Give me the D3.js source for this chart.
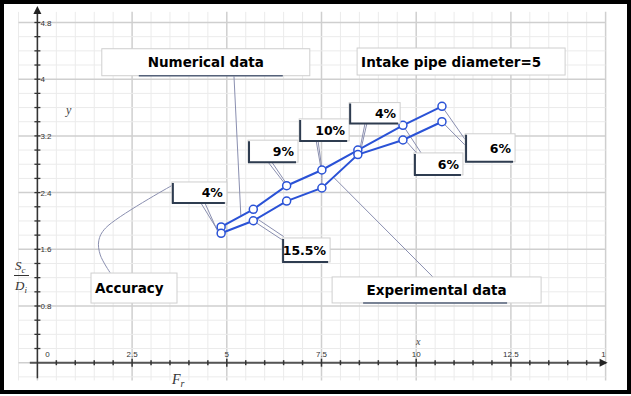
<!DOCTYPE html>
<html>
<head>
<meta charset="utf-8">
<script src="https://cdn.jsdelivr.net/npm/d3@7"></script>
<style>
  body { margin: 0; background: #fff; }
  svg { display: block; }
</style>
</head>
<body>
<svg id="chart" width="631" height="396"></svg>
<script>
// Froude number values (x) for both series
const frValues = [4.85, 5.7, 6.58, 7.51, 8.46, 9.65, 10.68]
// Sc/Di values
const numerical = [1.915, 2.164, 2.497, 2.719, 3.0, 3.349, 3.617]
const experimental = [1.826, 2.003, 2.281, 2.465, 2.937, 3.142, 3.4]
const xTicks = [0, 2.5, 5, 7.5, 10, 12.5, 15]
const yTicks = [0.8, 1.6, 2.4, 3.2, 4, 4.8]

// annotation boxes (data coords of top-left corner)
const labels = [
  { text: 'Numerical data', x: 1.7, y: 4.43, w: 208, h: 27, big: true, under: [37, 181] },
  { text: 'Intake pipe diameter=5', x: 8.44, y: 4.44, w: 208, h: 27, big: true, left: true },
  { text: 'Accuracy', x: 1.415, y: 1.265, w: 86, h: 30, big: true, left: true },
  { text: 'Experimental data', x: 7.78, y: 1.21, w: 209, h: 26, big: true, under: [31, 175] },
  { text: '4%', x: 3.55, y: 2.55, w: 55, h: 21 },
  { text: '15.5%', x: 6.46, y: 1.76, w: 48, h: 24 },
  { text: '9%', x: 5.56, y: 3.14, w: 50, h: 22 },
  { text: '10%', x: 6.91, y: 3.44, w: 50, h: 22 },
  { text: '4%', x: 8.23, y: 3.67, w: 51, h: 21 },
  { text: '6%', x: 9.94, y: 2.96, w: 49, h: 22 },
  { text: '6%', x: 11.29, y: 3.23, w: 50, h: 28 }
]

// leader lines, data coords
const leaders = [
  [[5.19, 4.04], [5.37, 2.08]],
  [[10.44, 1.21], [7.83, 2.61]],
  [[4.32, 2.25], [4.74, 1.885]],
  [[4.425, 2.25], [4.77, 1.84]],
  [[5.76, 1.98], [6.5, 1.72]],
  [[5.83, 2.02], [6.5, 1.78]],
  [[6.09, 2.83], [6.54, 2.52]],
  [[6.19, 2.83], [6.57, 2.53]],
  [[7.36, 3.130], [7.49, 2.73]],
  [[7.41, 3.130], [7.51, 2.73]],
  [[7.51, 2.719], [7.51, 2.465]],
  [[8.65, 3.38], [8.52, 3.03]],
  [[8.7, 3.38], [8.55, 3.03]],
  [[9.65, 3.349], [10.13, 2.96]],
  [[9.76, 3.11], [10.01, 2.96]],
  [[10.68, 3.617], [11.29, 3.15]],
  [[10.68, 3.4], [11.29, 3.07]]
]
const accuracyCurve = [[3.55, 2.5], [1.8, 1.9], [1.62, 1.72], [1.66, 1.52], [1.92, 1.27]]

const svg = d3.select('#chart')

const x = d3.scaleLinear().domain([0, 15]).range([37.4, 605.6])
const y = d3.scaleLinear().domain([0, 4.8]).range([362.7, 22.5])

const gridG = svg.append('g')
const xMinor = d3.range(-0.5, 15.01, 0.5)
const yMinor = d3.range(-0.2, 4.91, 0.2)

gridG.selectAll('.vx')
  .data(xMinor)
  .enter()
  .append('line')
  .attr('x1', d => x(d))
  .attr('x2', d => x(d))
  .attr('y1', y(4.95))
  .attr('y2', y(-0.25))
  .attr('stroke', d => Math.abs(d / 2.5 - Math.round(d / 2.5)) < 1e-6 ? '#cfcfcf' : '#ebebeb')
  .attr('stroke-width', d => Math.abs(d / 2.5 - Math.round(d / 2.5)) < 1e-6 ? 1.5 : 1)

gridG.selectAll('.hy')
  .data(yMinor)
  .enter()
  .append('line')
  .attr('x1', x(-0.5))
  .attr('x2', x(15))
  .attr('y1', d => y(d))
  .attr('y2', d => y(d))
  .attr('stroke', d => Math.abs(d / 0.8 - Math.round(d / 0.8)) < 1e-6 ? '#cfcfcf' : '#ebebeb')
  .attr('stroke-width', d => Math.abs(d / 0.8 - Math.round(d / 0.8)) < 1e-6 ? 1.5 : 1)

// axes
const axisG = svg.append('g')
axisG.append('line')
  .attr('x1', x(-0.2)).attr('x2', x(15))
  .attr('y1', y(0)).attr('y2', y(0))
  .attr('stroke', '#555').attr('stroke-width', 2)
axisG.append('path')
  .attr('d', `M${x(15) + 2},${y(0)} l-8,-4 l0,8 z`)
  .attr('fill', '#222')
axisG.append('line')
  .attr('x1', x(0)).attr('x2', x(0))
  .attr('y1', y(-0.22)).attr('y2', y(4.92))
  .attr('stroke', '#333').attr('stroke-width', 1.5)
axisG.append('path')
  .attr('d', `M${x(0)},${y(4.92) - 8} l-4,8 l8,0 z`)
  .attr('fill', '#222')

axisG.selectAll('.xt')
  .data(xMinor.filter(d => d > 0 && d < 15))
  .enter()
  .append('line')
  .attr('x1', d => x(d)).attr('x2', d => x(d))
  .attr('y1', d => y(0) - (d % 2.5 === 0 ? 4 : 2.5))
  .attr('y2', d => y(0) + (d % 2.5 === 0 ? 4 : 2.5))
  .attr('stroke', '#333').attr('stroke-width', 1.5)

axisG.selectAll('.yt')
  .data(yMinor.filter(d => d > 0.01 && d < 4.85))
  .enter()
  .append('line')
  .attr('x1', x(0) - 3).attr('x2', x(0) + 3)
  .attr('y1', d => y(d)).attr('y2', d => y(d))
  .attr('stroke', '#333').attr('stroke-width', 1.3)

svg.append('clipPath').attr('id', 'clipx')
  .append('rect').attr('x', 0).attr('y', 0).attr('width', x(15)).attr('height', 396)

axisG.selectAll('.xl')
  .data(xTicks)
  .enter()
  .append('text')
  .attr('x', d => d === 0 ? x(d) + 10 : x(d))
  .attr('y', y(0) - 6)
  .attr('text-anchor', 'middle')
  .attr('clip-path', 'url(#clipx)')
  .style('font', '8px "Liberation Sans", Arial, sans-serif')
  .style('fill', '#333')
  .text(d => d)

axisG.selectAll('.yl')
  .data(yTicks)
  .enter()
  .append('text')
  .attr('x', x(0) + 3)
  .attr('y', d => y(d) + 3)
  .style('font', '8px "Liberation Sans", Arial, sans-serif')
  .style('fill', '#333')
  .text(d => d)

const serif = '"Liberation Serif", "DejaVu Serif", serif'
svg.append('text').attr('x', 66).attr('y', 114)
  .style('font', `italic 12px ${serif}`).style('fill', '#444').text('y')
svg.append('text').attr('x', 416).attr('y', 345)
  .style('font', `italic 10px ${serif}`).style('fill', '#444').text('x')

const fr = svg.append('text').attr('x', 172).attr('y', 384)
  .style('font', `italic 14px ${serif}`).style('fill', '#333')
fr.append('tspan').text('F')
fr.append('tspan').attr('dy', 3).style('font-size', '10px').text('r')

const frac = svg.append('g').style('font', `italic 13px ${serif}`).style('fill', '#333')
const sc = frac.append('text').attr('x', 15).attr('y', 270)
sc.append('tspan').text('S')
sc.append('tspan').attr('dy', 3).style('font-size', '9px').text('c')
frac.append('line').attr('x1', 14).attr('x2', 29).attr('y1', 275.5).attr('y2', 275.5)
  .attr('stroke', '#333').attr('stroke-width', 1)
const di = frac.append('text').attr('x', 15).attr('y', 290)
di.append('tspan').text('D')
di.append('tspan').attr('dy', 3).style('font-size', '9px').text('i')

// leader lines
const leaderColor = '#8a8fb0'
svg.selectAll('.leader')
  .data(leaders)
  .enter()
  .append('line')
  .attr('x1', d => x(d[0][0])).attr('y1', d => y(d[0][1]))
  .attr('x2', d => x(d[1][0])).attr('y2', d => y(d[1][1]))
  .attr('stroke', leaderColor).attr('stroke-width', 1)

svg.append('path')
  .datum(accuracyCurve)
  .attr('d', d3.line().x(d => x(d[0])).y(d => y(d[1])).curve(d3.curveCatmullRom))
  .attr('fill', 'none')
  .attr('stroke', leaderColor).attr('stroke-width', 1)

// series
const lineGen = d3.line().x((d, i) => x(frValues[i])).y(d => y(d))
const blue = '#2a52d6'
;[numerical, experimental].forEach(series => {
  svg.append('path')
    .datum(series)
    .attr('d', lineGen)
    .attr('fill', 'none')
    .attr('stroke', blue)
    .attr('stroke-width', 2)
  svg.selectAll(null)
    .data(series)
    .enter()
    .append('circle')
    .attr('cx', (d, i) => x(frValues[i]))
    .attr('cy', d => y(d))
    .attr('r', 4)
    .attr('fill', '#fff')
    .attr('stroke', blue)
    .attr('stroke-width', 1.5)
})

// annotation boxes
const boxes = svg.selectAll('.box')
  .data(labels)
  .enter()
  .append('g')
  .attr('transform', d => `translate(${x(d.x)},${y(d.y)})`)

boxes.append('rect')
  .attr('width', d => d.w).attr('height', d => d.h)
  .attr('fill', '#fff')
  .attr('stroke', '#cfcfcf').attr('stroke-width', 1)

boxes.filter(d => !d.big)
  .append('path')
  .attr('d', d => `M1,1 V${d.h} H${d.w - 2}`)
  .attr('fill', 'none')
  .attr('stroke', '#2e3c50').attr('stroke-width', 2)

boxes.filter(d => d.under)
  .append('line')
  .attr('x1', d => d.under[0]).attr('x2', d => d.under[1])
  .attr('y1', d => d.h).attr('y2', d => d.h)
  .attr('stroke', '#55627a').attr('stroke-width', 1.5)

boxes.append('text')
  .attr('x', d => d.big ? (d.left ? 4 : d.w / 2) : d.w - 4)
  .attr('y', d => d.h / 2 + 5)
  .attr('text-anchor', d => d.big ? (d.left ? 'start' : 'middle') : 'end')
  .style('font-family', '"DejaVu Sans", sans-serif')
  .style('font-weight', 'bold')
  .style('font-size', d => d.big ? '13.5px' : '12.5px')
  .style('fill', '#000')
  .text(d => d.text)

// outer frame
svg.append('rect')
  .attr('x', 2).attr('y', 2).attr('width', 627).attr('height', 390)
  .attr('fill', 'none').attr('stroke', '#000').attr('stroke-width', 4)
</script>
</body>
</html>
